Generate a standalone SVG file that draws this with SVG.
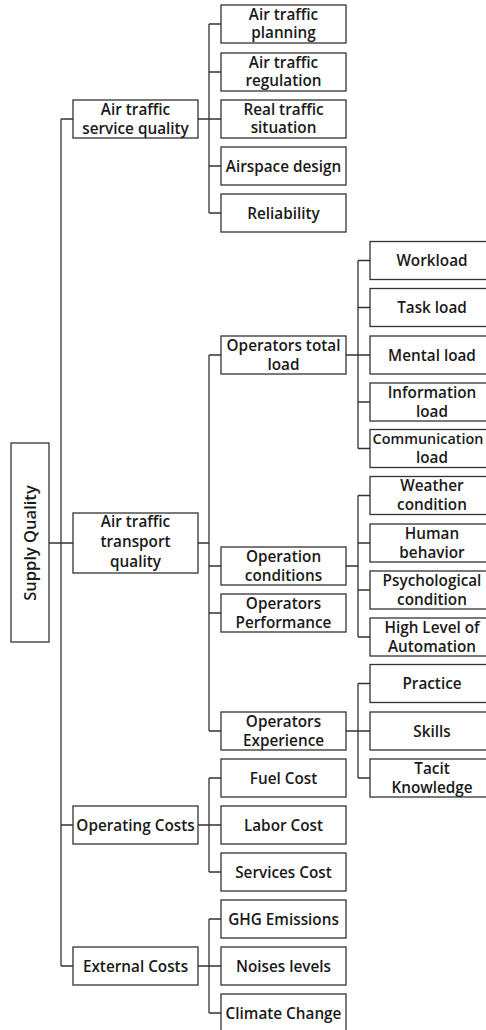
<svg xmlns="http://www.w3.org/2000/svg" width="486" height="1030" viewBox="0 0 486 1030">
<style>
.box{fill:#fff;stroke:#333;stroke-width:1.3}
.lbl{font-family:"Open Sans","Noto Sans",sans-serif;font-weight:600;font-size:15.3px;fill:#1a1a1a;text-anchor:middle}
.con{fill:none;stroke:#333;stroke-width:1.3}
</style>
<rect width="486" height="1030" fill="#fff"/>
<g id="connectors" class="con">
<path d="M49 543H61M61 119V966M61 119H73M61 543H73M61 825H73M61 966H73"/>
<path d="M198 119H209M209 24V213M209 24H221M209 72H221M209 119H221M209 166H221M209 213H221"/>
<path d="M198 543H209M209 355V731M209 355H221M209 566H221M209 613H221M209 731H221"/>
<path d="M346 355H358M358 260.5V448.5M358 260.5H370M358 307.5H370M358 355H370M358 402H370M358 448.5H370"/>
<path d="M346 566H358M358 495.5V637M358 495.5H370M358 543H370M358 590H370M358 637H370"/>
<path d="M346 731H358M358 683.5V778M358 683.5H370M358 731H370M358 778H370"/>
<path d="M198 825H209M209 778V872M209 778H221M209 825H221M209 872H221"/>
<path d="M198 966H209M209 919V1013M209 919H221M209 966H221M209 1013H221"/>
</g>
<g id="supply-quality"><rect class="box" x="11" y="443" width="38" height="199"/><text class="lbl" style="font-size:16.5px" transform="translate(36 543) rotate(-90)">Supply Quality</text></g>
<g id="atsq"><rect class="box" x="73" y="100" width="125" height="38"/><text class="lbl" x="135.5" y="114.5">Air traffic</text><text class="lbl" x="135.5" y="133.5">service quality</text></g>
<g id="attq"><rect class="box" x="73" y="513" width="125" height="60"/><text class="lbl" x="135.5" y="527">Air traffic</text><text class="lbl" x="135.5" y="547">transport</text><text class="lbl" x="135.5" y="567">quality</text></g>
<g id="opcosts"><rect class="box" x="73" y="806" width="125" height="38"/><text class="lbl" x="135.5" y="830.5">Operating Costs</text></g>
<g id="extcosts"><rect class="box" x="73" y="947" width="125" height="38"/><text class="lbl" x="135.5" y="971.5">External Costs</text></g>

<g id="planning"><rect class="box" x="221" y="5" width="125" height="38"/><text class="lbl" x="283.5" y="20">Air traffic</text><text class="lbl" x="283.5" y="38">planning</text></g>
<g id="regulation"><rect class="box" x="221" y="53" width="125" height="38"/><text class="lbl" x="283.5" y="68">Air traffic</text><text class="lbl" x="283.5" y="86">regulation</text></g>
<g id="realtraffic"><rect class="box" x="221" y="100" width="125" height="38"/><text class="lbl" x="283.5" y="115">Real traffic</text><text class="lbl" x="283.5" y="133">situation</text></g>
<g id="airspace"><rect class="box" x="221" y="147" width="125" height="38"/><text class="lbl" x="283.5" y="171.5">Airspace design</text></g>
<g id="reliability"><rect class="box" x="221" y="194" width="125" height="38"/><text class="lbl" x="283.5" y="218.5">Reliability</text></g>

<g id="otl"><rect class="box" x="221" y="336" width="125" height="38"/><text class="lbl" x="283.5" y="350.5">Operators total</text><text class="lbl" x="283.5" y="369.5">load</text></g>
<g id="opcond"><rect class="box" x="221" y="547" width="125" height="38"/><text class="lbl" x="283.5" y="561.5">Operation</text><text class="lbl" x="283.5" y="580.5">conditions</text></g>
<g id="opperf"><rect class="box" x="221" y="594" width="125" height="38"/><text class="lbl" x="283.5" y="608.5">Operators</text><text class="lbl" x="283.5" y="627.5">Performance</text></g>
<g id="opexp"><rect class="box" x="221" y="712" width="125" height="38"/><text class="lbl" x="283.5" y="726.5">Operators</text><text class="lbl" x="283.5" y="745.5">Experience</text></g>
<g id="fuel"><rect class="box" x="221" y="759" width="125" height="38"/><text class="lbl" x="283.5" y="783.5">Fuel Cost</text></g>
<g id="labor"><rect class="box" x="221" y="806" width="125" height="38"/><text class="lbl" x="283.5" y="830.5">Labor Cost</text></g>
<g id="services"><rect class="box" x="221" y="853" width="125" height="38"/><text class="lbl" x="283.5" y="877.5">Services Cost</text></g>
<g id="ghg"><rect class="box" x="221" y="900" width="125" height="38"/><text class="lbl" x="283.5" y="924.5">GHG Emissions</text></g>
<g id="noise"><rect class="box" x="221" y="947" width="125" height="38"/><text class="lbl" x="283.5" y="971.5">Noises levels</text></g>
<g id="climate"><rect class="box" x="221" y="994" width="125" height="38"/><text class="lbl" x="283.5" y="1018.5">Climate Change</text></g>

<g id="workload"><rect class="box" x="370" y="241.5" width="125" height="38"/><text class="lbl" x="432" y="266">Workload</text></g>
<g id="taskload"><rect class="box" x="370" y="288.5" width="125" height="38"/><text class="lbl" x="432" y="313">Task load</text></g>
<g id="mentalload"><rect class="box" x="370" y="336" width="125" height="38"/><text class="lbl" x="432" y="360.5">Mental load</text></g>
<g id="infoload"><rect class="box" x="370" y="383" width="125" height="38"/><text class="lbl" x="432" y="397.5">Information</text><text class="lbl" x="432" y="416.5">load</text></g>
<g id="commload"><rect class="box" x="370" y="429.5" width="125" height="38"/><text class="lbl" x="428" y="444" style="font-size:14.4px">Communication</text><text class="lbl" x="432" y="463">load</text></g>
<g id="weather"><rect class="box" x="370" y="476.5" width="125" height="38"/><text class="lbl" x="432" y="491">Weather</text><text class="lbl" x="432" y="510">condition</text></g>
<g id="human"><rect class="box" x="370" y="524" width="125" height="38"/><text class="lbl" x="432" y="538.5">Human</text><text class="lbl" x="432" y="557.5">behavior</text></g>
<g id="psych"><rect class="box" x="370" y="571" width="125" height="38"/><text class="lbl" x="432" y="585.5">Psychological</text><text class="lbl" x="432" y="604.5">condition</text></g>
<g id="automation"><rect class="box" x="370" y="618" width="125" height="38"/><text class="lbl" x="432" y="632.5">High Level of</text><text class="lbl" x="432" y="651.5">Automation</text></g>
<g id="practice"><rect class="box" x="370" y="664.5" width="125" height="38"/><text class="lbl" x="432" y="689">Practice</text></g>
<g id="skills"><rect class="box" x="370" y="712" width="125" height="38"/><text class="lbl" x="432" y="736.5">Skills</text></g>
<g id="tacit"><rect class="box" x="370" y="759" width="125" height="38"/><text class="lbl" x="432" y="773.5">Tacit</text><text class="lbl" x="432" y="792.5">Knowledge</text></g>
</svg>
